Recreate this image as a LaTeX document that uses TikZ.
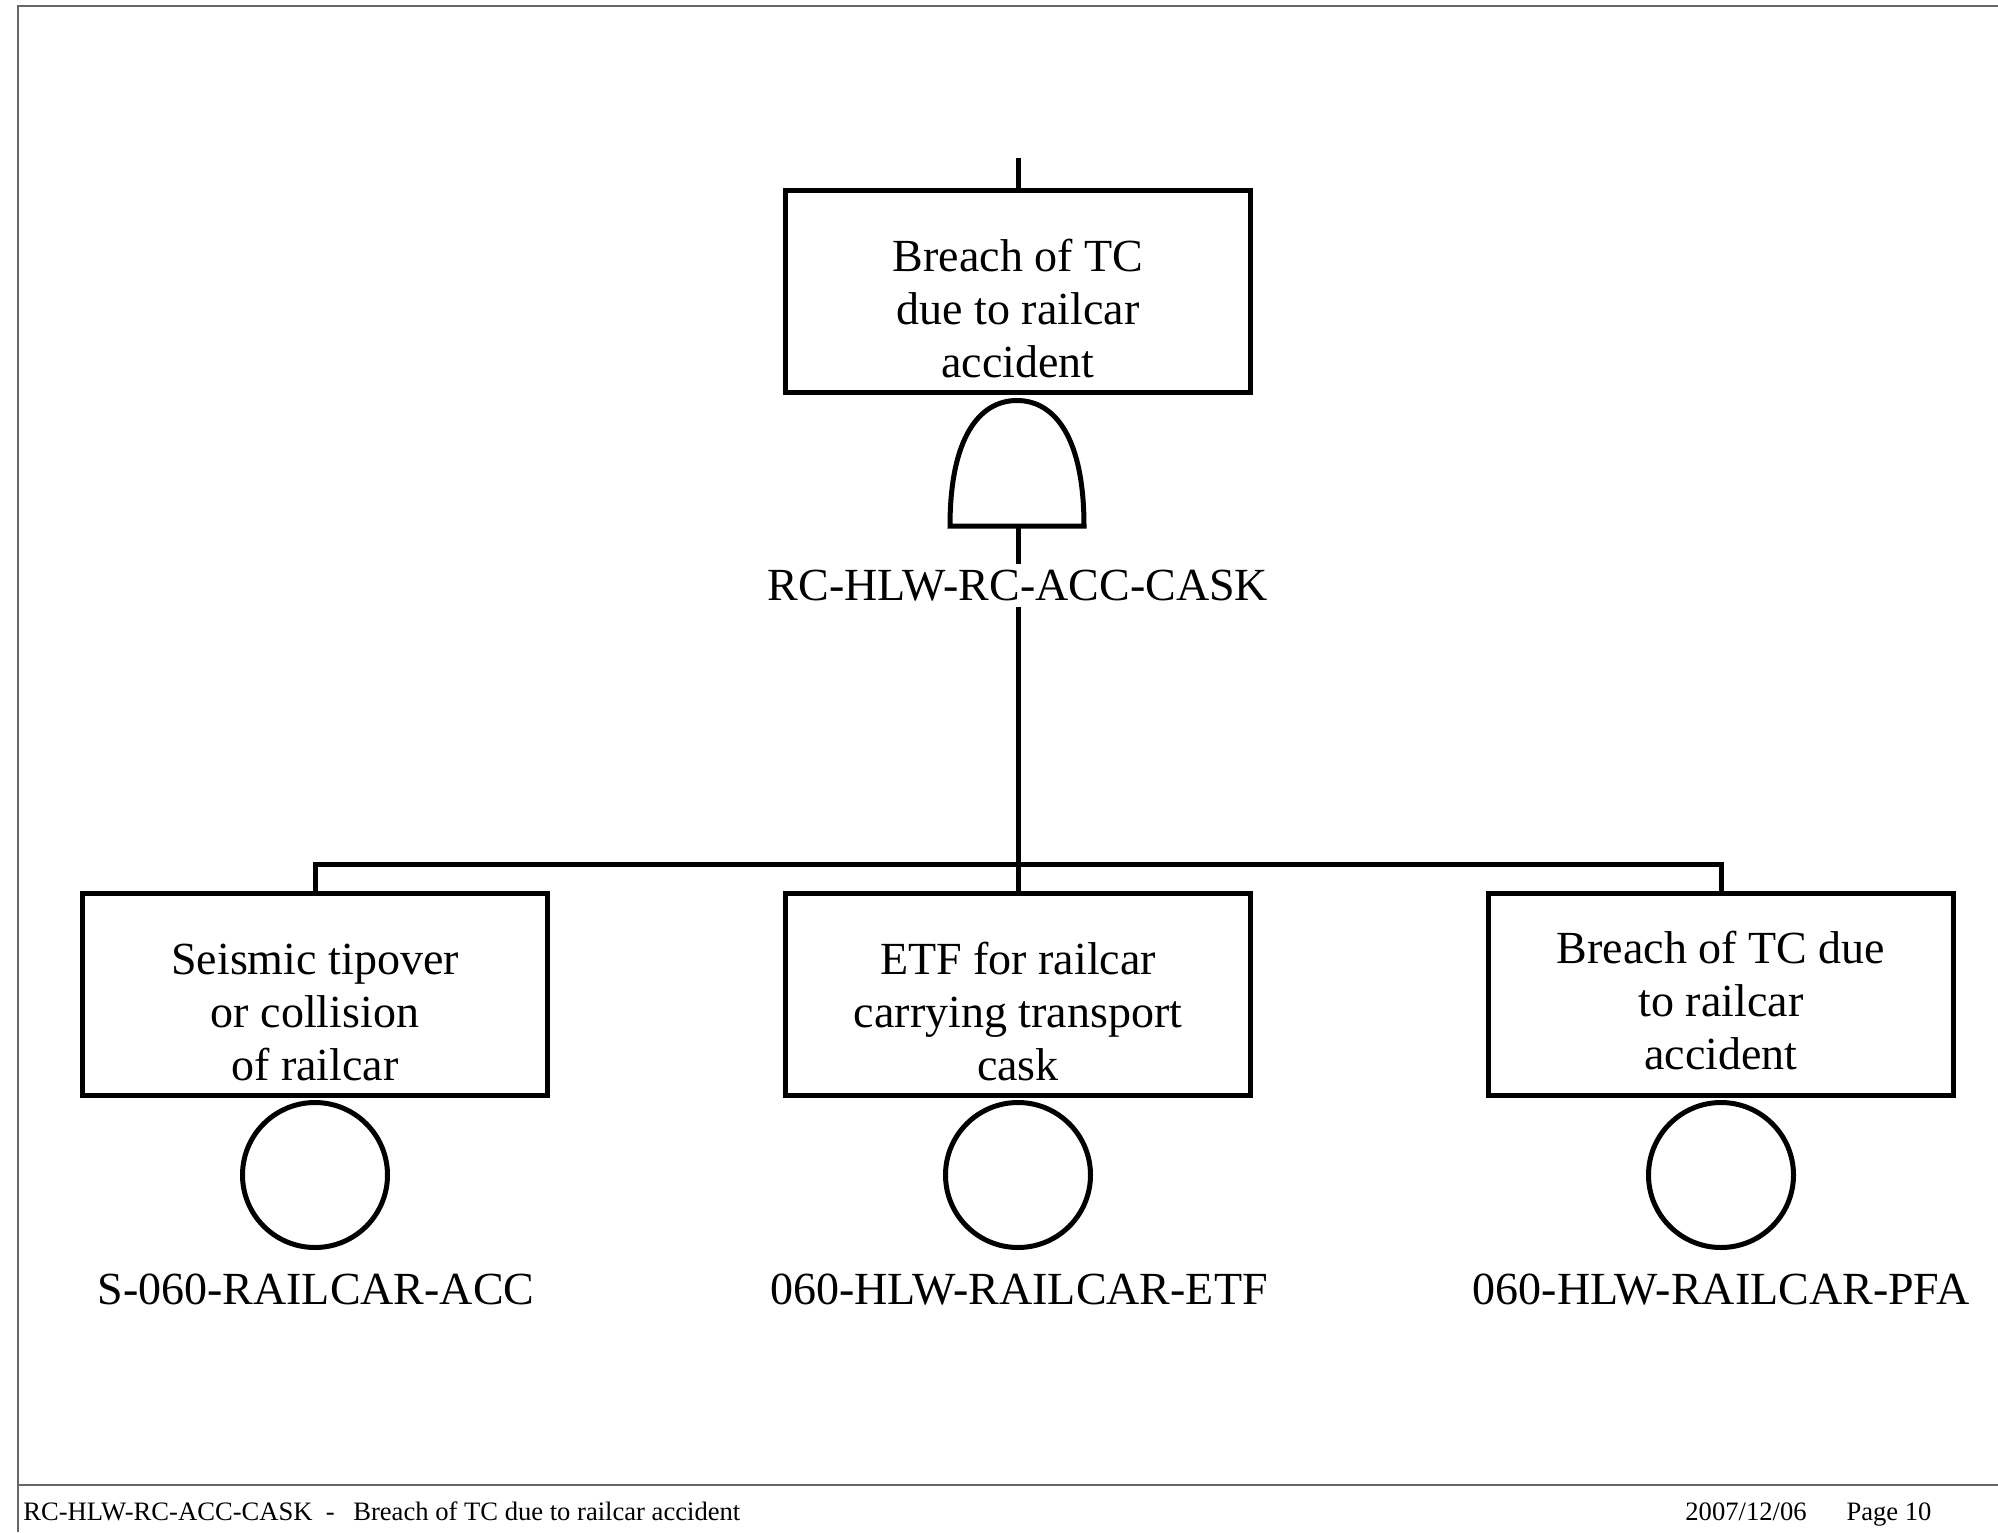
\documentclass[tikz,border=0pt]{standalone}
\usepackage{fontspec}
\setmainfont{Liberation Serif}
\begin{document}
\begin{tikzpicture}[x=0.5pt,y=-0.5pt,
  evbox/.style={draw, line width=2.5pt, minimum width=232.5pt, minimum height=101pt, inner sep=0pt},
  evtext/.style={align=center, font=\fontsize{23}{26.5}\selectfont, inner sep=0pt},
  basicev/.style={circle, draw, line width=2.5pt, minimum size=72.5pt, inner sep=0pt},
  idlabel/.style={font=\fontsize{23}{26}\selectfont, inner sep=0pt, anchor=base},
  conn/.style={line width=2.5pt, line join=miter},
  framelin/.style={line width=1pt, draw=gray!80!black},
  foot/.style={font=\fontsize{13.3}{15}\selectfont, inner sep=0pt, anchor=base west}]
\useasboundingbox (0,0) rectangle (1998,1532);
% page frame
\draw[framelin] (18,1532) -- (18,6) -- (1998,6);
\draw[framelin] (18,1485) -- (1998,1485);
% top event
\node[evbox] (top) at (1018,291.5) {};
\node[evtext] (toptxt) at (1018,309) {Breach of TC\\due to railcar\\accident};
\coordinate (topin) at (1018,158);
\draw[conn] (topin) -- (top.north);
% AND gate
\coordinate (gtop) at (1017,400.5);
\coordinate (gbot) at (1018,526);
\draw[conn] (950,526) -- (1084,526)
  .. controls (1084,438) and (1055,400.5) .. (gtop)
  .. controls (979,400.5) and (950,438) .. (950,526) -- cycle;
% bottom events
\node[evbox] (lbox) at (315,994) {};
\node[evbox] (mbox) at (1018,994) {};
\node[evbox] (rbox) at (1721,994) {};
\coordinate (bar) at (1018,864);
\draw[conn] (gbot) -- (mbox.north);
\draw[conn] (lbox.north) -- (lbox.north |- bar) -- (rbox.north |- bar) -- (rbox.north);
\node[idlabel, fill=white, inner sep=3pt] (gatelbl) at (1018,600) {RC-HLW-RC-ACC-CASK};
\node[evtext] (ltxt) at (315,1012) {Seismic tipover\\or collision\\of railcar};
\node[evtext] (mtxt) at (1018,1012) {ETF for railcar\\carrying transport\\cask};
\node[evtext] (rtxt) at (1721,1001) {Breach of TC due\\to railcar\\accident};
% basic events
\node[basicev] (lc) at (315,1175) {};
\node[basicev] (mc) at (1018,1175) {};
\node[basicev] (rc) at (1721,1175) {};
\node[idlabel] (lid) at (316,1304) {S-060-RAILCAR-ACC};
\node[idlabel] (mid) at (1019,1304) {060-HLW-RAILCAR-ETF};
\node[idlabel] (rid) at (1721,1304) {060-HLW-RAILCAR-PFA};
% footer
\node[foot] (fl) at (23,1520) {RC-HLW-RC-ACC-CASK\hspace{0.5em}-\hspace{0.7em}Breach of TC due to railcar accident};
\node[foot] (fr) at (1685,1520) {2007/12/06\hspace{1.5em}Page 10};
\end{tikzpicture}
\end{document}
